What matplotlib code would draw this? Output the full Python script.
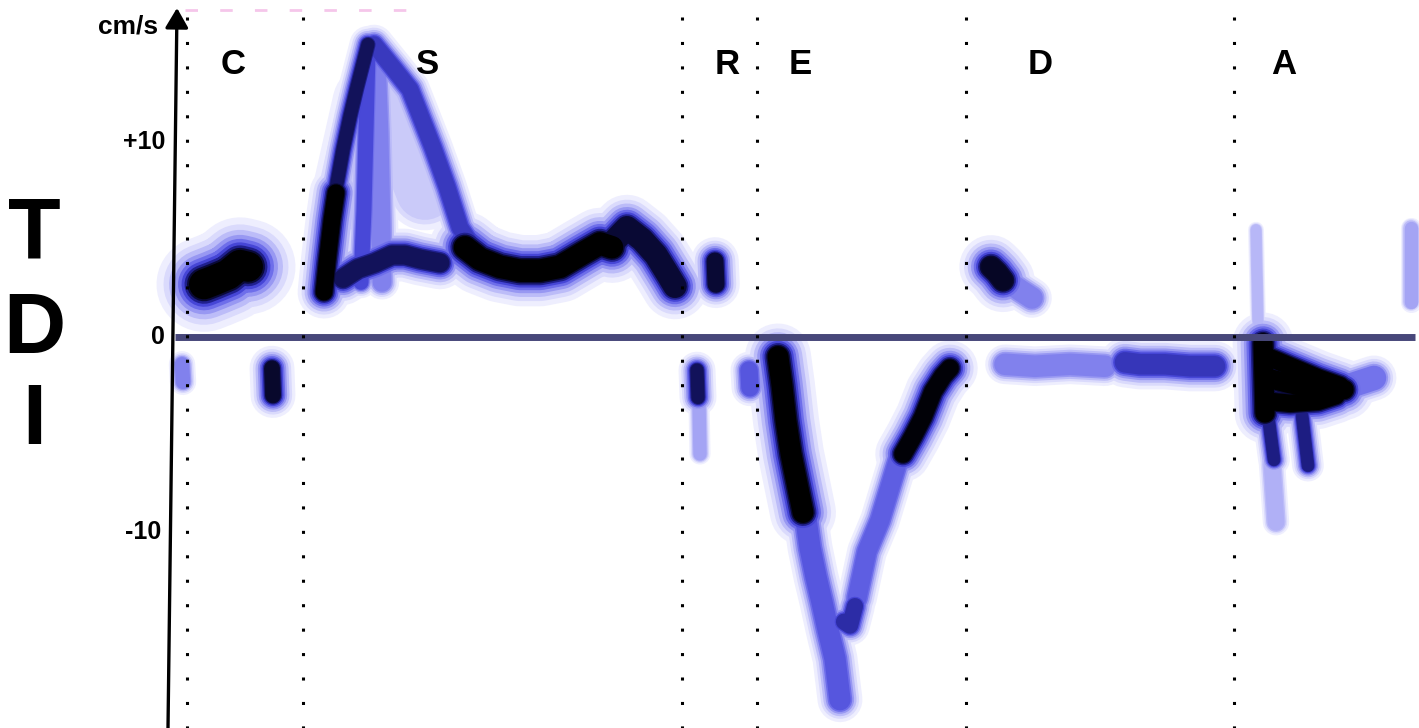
import numpy as np
import matplotlib
matplotlib.use('Agg')
import matplotlib.pyplot as plt

# velocity scale (cm/s); time is in image-width units
V_TOP = 17.28
V_BOTTOM = -20.05
T_MAX = 1419

phase_labels = ['C', 'S', 'R', 'E', 'D', 'A']
phase_label_t = [233, 428, 727, 800, 1040, 1284]
phase_sep_t = [187, 303, 682, 757, 966, 1234]

tick_values = [10, 0, -10]
tick_labels = ['+10', '0', '-10']

# spectral traces: time points and velocities (cm/s)
c_pos_t = [204, 214, 228, 240, 248]
c_pos_v = [2.7, 2.9, 3.2, 3.7, 3.6]
c_neg_t = [272, 273]
c_neg_v = [-1.6, -3.0]
c_faint_t = [182, 183]
c_faint_v = [-1.4, -2.3]

s_foot_t = [324, 327, 332, 336]
s_foot_v = [2.3, 3.8, 6.0, 7.4]
s_edge_t = [336, 343, 350, 357, 364, 368]
s_edge_v = [7.6, 9.6, 11.3, 12.8, 14.2, 15.0]
s_back_t = [368, 366, 364, 361]
s_back_v = [14.5, 10.5, 6.5, 2.8]
s_mid_t = [376, 379, 381, 382]
s_mid_v = [14.5, 10.5, 6.0, 2.8]
s_haze_t = [350, 372, 398, 425]
s_haze_v = [7.0, 12.0, 11.0, 7.5]
s_right_t = [374, 393, 410, 433, 447, 460, 473]
s_right_v = [15.0, 13.8, 12.7, 9.7, 7.7, 5.6, 4.6]
s_low_t = [343, 358, 375, 392, 405, 420, 440]
s_low_v = [3.0, 3.5, 3.8, 4.2, 4.2, 4.0, 3.8]
s_band_t = [465, 480, 500, 520, 540, 560, 583, 600, 612]
s_band_v = [4.6, 4.0, 3.6, 3.4, 3.4, 3.6, 4.3, 4.8, 4.6]
s_tail_t = [612, 627, 642, 656, 668, 675]
s_tail_v = [4.8, 5.6, 5.0, 4.2, 3.2, 2.6]

r_pos_t = [715, 716]
r_pos_v = [3.9, 2.7]
r_neg1_t = [697, 698]
r_neg1_v = [-1.7, -3.1]
r_tail_t = [699, 700]
r_tail_v = [-3.4, -6.0]
r_neg2_t = [749, 750]
r_neg2_v = [-1.7, -2.6]

e_down_t = [778, 782, 786, 791, 797, 803]
e_down_v = [-1.0, -2.5, -4.3, -6.0, -7.5, -9.0]
e_deep_t = [805, 810, 816, 822, 828, 835, 840]
e_deep_v = [-9.0, -10.8, -12.3, -13.6, -15.0, -16.5, -18.6]
e_trough_t = [844, 850, 855]
e_trough_v = [-14.6, -14.8, -13.8]
e_rise_t = [857, 867, 880, 890, 900]
e_rise_v = [-13.4, -11.0, -9.4, -7.7, -6.0]
e_up_t = [903, 913, 923, 933, 943, 950]
e_up_v = [-6.0, -5.1, -4.1, -2.8, -2.0, -1.6]

d_pos_t = [991, 997, 1003]
d_pos_v = [3.6, 3.3, 2.9]
d_pos_tail_t = [1006, 1020, 1032]
d_pos_tail_v = [2.9, 2.4, 2.0]
d_neg_light_t = [1005, 1035, 1070, 1105]
d_neg_light_v = [-1.4, -1.5, -1.4, -1.5]
d_neg_t = [1125, 1140, 1165, 1190, 1215]
d_neg_v = [-1.3, -1.4, -1.4, -1.5, -1.5]

a_col_t = [1263, 1265]
a_col_v = [-0.3, -3.9]
a_upper_t = [1267, 1290, 1318, 1340]
a_upper_v = [-1.0, -1.5, -2.1, -2.5]
a_mid_t = [1267, 1290, 1320, 1344]
a_mid_v = [-2.1, -2.4, -2.7, -2.7]
a_lower_t = [1269, 1290, 1318, 1336]
a_lower_v = [-3.3, -3.4, -3.3, -3.0]
a_tail1_t = [1268, 1274]
a_tail1_v = [-4.0, -6.3]
a_tail2_t = [1302, 1308]
a_tail2_v = [-4.0, -6.6]
a_faint_t = [1272, 1276]
a_faint_v = [-6.5, -9.5]
a_right_t = [1350, 1374]
a_right_v = [-2.5, -2.1]
a_up_t = [1256, 1258]
a_up_v = [5.5, 0.8]
edge_t = [1411, 1411]
edge_v = [5.6, 1.8]

# (t, v, stroke width in pt, signal depth 0..1)
traces = [
    (c_pos_t, c_pos_v, 36, 1.0), (c_neg_t, c_neg_v, 17, 0.8), (c_faint_t, c_faint_v, 10, 0.3),
    (s_haze_t, s_haze_v, 30, 0.03), (s_mid_t, s_mid_v, 13, 0.3), (s_right_t, s_right_v, 15, 0.55),
    (s_back_t, s_back_v, 12, 0.5), (s_low_t, s_low_v, 20, 0.72), (s_foot_t, s_foot_v, 20, 1.0),
    (s_edge_t, s_edge_v, 14, 0.72), (s_band_t, s_band_v, 27, 1.0), (s_tail_t, s_tail_v, 25, 0.78),
    (r_pos_t, r_pos_v, 18, 0.78), (r_neg1_t, r_neg1_v, 14, 0.72), (r_tail_t, r_tail_v, 8, 0.2),
    (r_neg2_t, r_neg2_v, 14, 0.45),
    (e_deep_t, e_deep_v, 17, 0.45), (e_trough_t, e_trough_v, 15, 0.6), (e_rise_t, e_rise_v, 15, 0.42),
    (e_down_t, e_down_v, 25, 1.0), (e_up_t, e_up_v, 21, 0.9),
    (d_pos_t, d_pos_v, 24, 0.82), (d_pos_tail_t, d_pos_tail_v, 15, 0.3),
    (d_neg_light_t, d_neg_light_v, 15, 0.3), (d_neg_t, d_neg_v, 19, 0.56),
    (a_up_t, a_up_v, 6, 0.12), (a_faint_t, a_faint_v, 10, 0.15), (a_right_t, a_right_v, 17, 0.35),
    (a_tail1_t, a_tail1_v, 12, 0.65), (a_tail2_t, a_tail2_v, 12, 0.65),
    (a_col_t, a_col_v, 23, 1.0), (a_upper_t, a_upper_v, 21, 1.0), (a_mid_t, a_mid_v, 23, 1.0),
    (a_lower_t, a_lower_v, 21, 1.0), (edge_t, edge_v, 8, 0.2),
]

# smear layers: colour, width fraction, depth threshold
layers = [('#eeeefe', 1.9, -0.3), ('#dadafc', 1.62, -0.2), ('#bcbcf8', 1.4, -0.05),
          ('#9898f2', 1.2, 0.1), ('#6e6eea', 1.04, 0.22), ('#4646d6', 0.9, 0.36),
          ('#20208e', 0.78, 0.5), ('#0a0a38', 0.68, 0.63), ('#000000', 0.6, 0.77)]

fig = plt.figure(figsize=(14.19, 7.28), dpi=100)
ax = fig.add_axes([0, 0, 1, 1])
ax.set_xlim(0, T_MAX)
ax.set_ylim(V_BOTTOM, V_TOP)
ax.axis('off')

for color, frac, thr in layers:
    for t, v, w, depth in traces:
        a = np.clip((depth - thr) / 0.15, 0, 1)
        if a <= 0:
            continue
        ax.plot(t, v, color=color, lw=w * frac, alpha=float(a),
                solid_capstyle='round', solid_joinstyle='round', zorder=2)

# zero line
ax.plot([175, 1415], [0, 0], color='#47477a', lw=5, solid_capstyle='butt', zorder=3)

# dotted phase separators
for t in phase_sep_t:
    ax.plot([t, t], [16.4, V_BOTTOM], color='black', lw=2.2, linestyle=(0, (1, 7)), zorder=4)

# faint pink marker at top
ax.plot([185, 412], [16.77, 16.77], color='#f5c6ea', lw=2, dashes=(4.5, 8), zorder=1)

# velocity axis arrow
ax.annotate('', xy=(177, 16.87), xytext=(168, V_BOTTOM),
            arrowprops=dict(arrowstyle='-|>,head_length=0.6,head_width=0.35', lw=2.4,
                            color='black', mutation_scale=20, shrinkA=0, shrinkB=0), zorder=5)

for val, lab in zip(tick_values, tick_labels):
    ax.text(165 if val >= 0 else 161, val, lab, ha='right', va='center',
            fontsize=18, fontweight='bold', family='Liberation Sans')
ax.text(158, 15.9, 'cm/s', ha='right', va='center', fontsize=19, fontweight='bold',
        family='Liberation Sans')

for lab, t in zip(phase_labels, phase_label_t):
    ax.text(t, 13.95, lab, ha='center', va='center', fontsize=25, fontweight='bold',
            family=['Liberation Sans Narrow', 'Liberation Sans'])

for lab, v in zip(['T', 'D', 'I'], [5.18, 0.31, -4.36]):
    ax.text(34, v, lab, ha='center', va='center', fontsize=62, fontweight='bold',
            family='Liberation Sans')

fig.savefig('out.png', dpi=100)
